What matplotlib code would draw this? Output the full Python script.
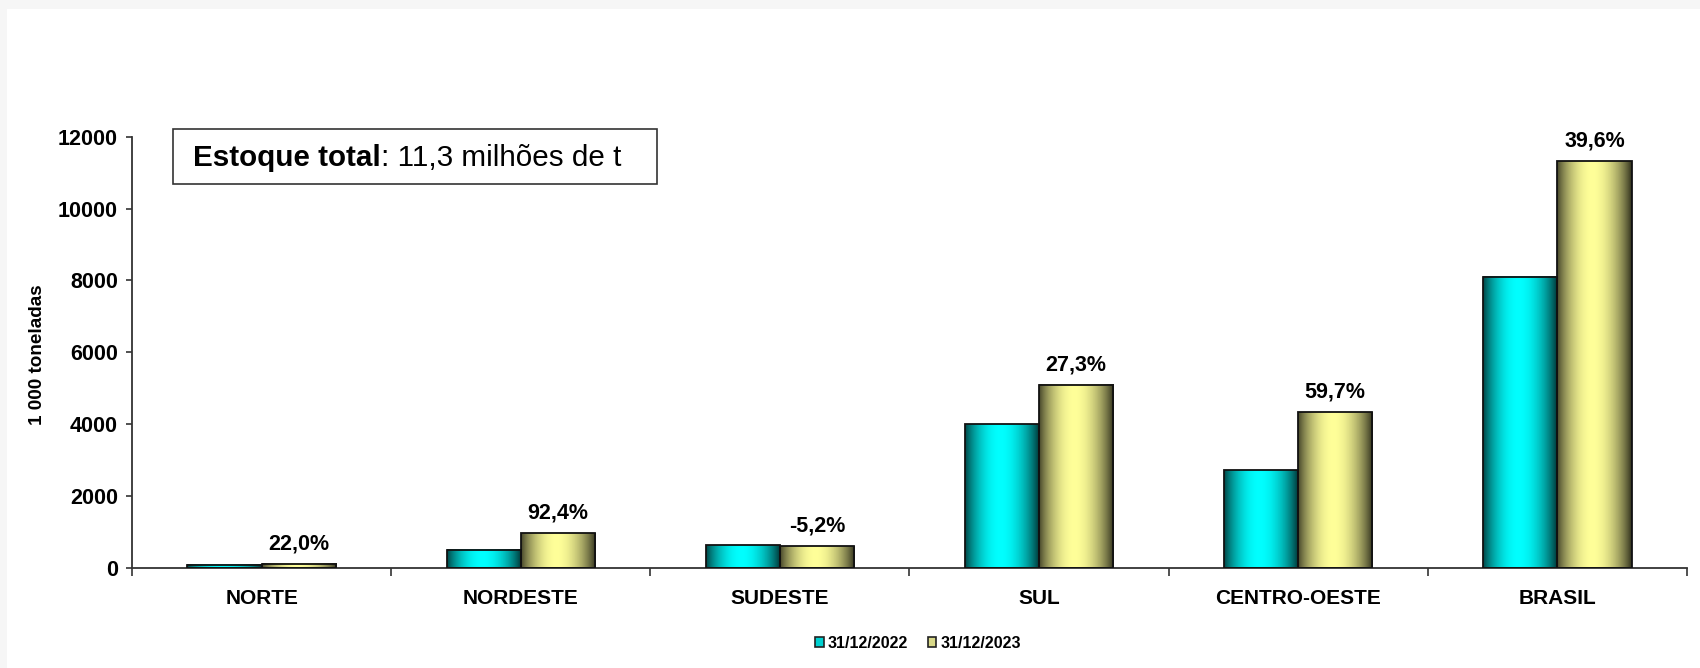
import numpy as np
import matplotlib
matplotlib.use("Agg")
import matplotlib.pyplot as plt
from matplotlib.patches import Rectangle

plt.rcParams['font.family'] = ['Liberation Sans', 'DejaVu Sans']

# Data (1 000 toneladas)
regioes = ["NORTE", "NORDESTE", "SUDESTE", "SUL", "CENTRO-OESTE", "BRASIL"]
estoque_2022 = [95, 505, 635, 4000, 2715, 8100]
estoque_2023 = [116, 972, 602, 5092, 4336, 11310]
variacao = ["22,0%", "92,4%", "-5,2%", "27,3%", "59,7%", "39,6%"]
series_labels = ["31/12/2022", "31/12/2023"]
yticks = [0, 2000, 4000, 6000, 8000, 10000, 12000]


def shade(base, n=120):
    # cylinder-like horizontal shading, dark at edges, bright near the middle
    t = np.linspace(0, 1, n)
    peak = 0.47
    f = np.where(t < peak,
                 0.26 + 0.74 * np.sin(np.pi / 2 * t / peak) ** 0.8,
                 0.17 + 0.83 * np.cos(np.pi / 2 * (t - peak) / (1 - peak)) ** 0.8)
    base = np.array(base)
    return (f[:, None] * base[None, :])[None, :, :]


def gradient_bars(ax, xs, heights, width, base):
    grad = shade(base)
    bars = ax.bar(xs, heights, width, facecolor="none", edgecolor="#111111",
                  linewidth=1.3, zorder=3)
    for b in bars:
        x0 = b.get_x()
        ax.imshow(grad, extent=(x0, x0 + b.get_width(), 0, b.get_height()),
                  aspect="auto", interpolation="bilinear", zorder=2)
    return bars


fig = plt.figure(figsize=(17, 6.68), dpi=100, facecolor="#f6f6f6")
fig.patches.append(Rectangle((7 / 1700, 0), 1, 1 - 9 / 668, transform=fig.transFigure,
                             facecolor="white", edgecolor="none", zorder=-2))

# annotation box
fig.patches.append(Rectangle((173 / 1700, 1 - 184 / 668), (657 - 173) / 1700, 55 / 668,
                             transform=fig.transFigure, facecolor="white",
                             edgecolor="#333333", linewidth=1.2, zorder=-1))

ax = fig.add_axes([132 / 1700, 1 - 568 / 668, (1687 - 132) / 1700, (568 - 136.6) / 668])
ax.set_facecolor("none")

x = np.arange(len(regioes))
w = 0.286
cyan = (0.0, 1.0, 1.0)
yellow = (1.0, 1.0, 0.6)
gradient_bars(ax, x - w / 2, estoque_2022, w, cyan)
gradient_bars(ax, x + w / 2, estoque_2023, w, yellow)

for xi, v, lab in zip(x, estoque_2023, variacao):
    ax.annotate(lab, (xi + w / 2, v), xytext=(0, 7), textcoords="offset points",
                ha="center", va="bottom", fontsize=15.5, fontweight="bold")

ax.set_xlim(-0.5, len(regioes) - 0.5)
ax.set_ylim(0, 12000)
ax.set_yticks(yticks)
ax.set_yticklabels([str(t) for t in yticks], fontsize=15.5, fontweight="bold")
ax.tick_params(axis="y", length=4, width=1.2, pad=6, color="#333333")

ax.set_xticks(np.arange(-0.5, len(regioes), 1))
ax.set_xticklabels([])
ax.set_xticks(x, minor=True)
ax.set_xticklabels(regioes, minor=True, fontsize=15, fontweight="bold")
ax.tick_params(axis="x", which="major", length=6, width=1.2, color="#333333")
ax.tick_params(axis="x", which="minor", length=0, pad=15)

for s in ["top", "right"]:
    ax.spines[s].set_visible(False)
for s in ["left", "bottom"]:
    ax.spines[s].set_color("#333333")
    ax.spines[s].set_linewidth(1.3)

fig.text(37 / 1700, 1 - 355 / 668, "1 000 toneladas", rotation=90, ha="center",
         va="center", fontsize=13.6, fontweight="bold")

t1 = ax.text(193 / 1700, 1 - 166 / 668, "Estoque total", fontsize=21.3,
             fontweight="bold", va="baseline", transform=fig.transFigure, clip_on=False)
ax.annotate(": 11,3 milhões de t", xy=(1, 0), xycoords=t1, va="bottom",
            fontsize=21.3, annotation_clip=False)

# legend
handles = [Rectangle((0, 0), 1, 1, facecolor=c, edgecolor="#222222", linewidth=1.2)
           for c in ["#00d0d0", "#d8d888"]]
fig.legend(handles, series_labels, loc="center", bbox_to_anchor=(918 / 1700, 1 - 643 / 668),
           ncol=2, frameon=False, prop={"weight": "bold", "size": 11.5},
           handlelength=0.55, handleheight=0.55, handletextpad=0.25, columnspacing=1.2)

fig.savefig("out.png", dpi=100, facecolor=fig.get_facecolor())
